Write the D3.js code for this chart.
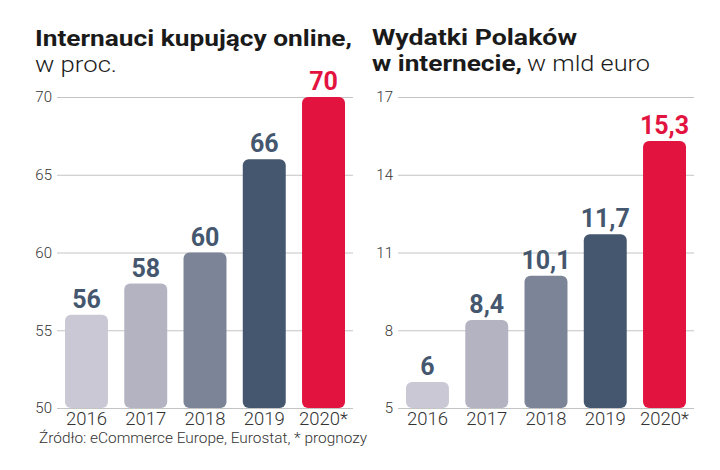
<!DOCTYPE html>
<html lang="pl">
<head>
<meta charset="UTF-8">
<title>Zakupy online</title>
<script src="https://cdn.jsdelivr.net/npm/d3@7/dist/d3.min.js"></script>
<style>
  body { margin: 0; background: #fff; }
  svg { display: block; font-family: Roboto, "Noto Sans", sans-serif; }
</style>
</head>
<body>
<svg id="chart" width="720" height="470"></svg>
<script>
// dane
const years = ['2016', '2017', '2018', '2019', '2020*'];
const buyersPct = [56, 58, 60, 66, 70];
const spendBnEur = [6, 8.4, 10.1, 11.7, 15.3];
const buyersTicks = [50, 55, 60, 65, 70];
const spendTicks = [5, 8, 11, 14, 17];

const barColors = ['#c9c8d4', '#b4b3c2', '#7b8597', '#44576e', '#e2143f'];
const labelColors = ['#44576e', '#44576e', '#44576e', '#44576e', '#e2143f'];

const pl = d3.formatLocale({ decimal: ',', thousands: ' ', grouping: [3], currency: ['', ''] });
const fmt = pl.format('.1~f');

const svg = d3.select('#chart');

// wspólna skala pionowa w pikselach
const plotTop = 97, plotBottom = 408;

function drawPanel(left, values, ticks) {
  const right = left + 296;
  const g = svg.append('g');

  const x = d3.scaleBand().domain(years).range([left, right])
    .paddingInner(0.275).paddingOuter(0.135);
  const y = d3.scaleLinear().domain([ticks[0], ticks[ticks.length - 1]]).range([plotBottom, plotTop]);

  // siatka + etykiety osi Y
  const yAxis = g.append('g')
    .attr('transform', `translate(${left},0)`)
    .call(d3.axisLeft(y).tickValues(ticks).tickSize(-(right - left)).tickPadding(5));
  yAxis.select('.domain').remove();
  yAxis.selectAll('.tick line').attr('stroke', '#c4c4c4').attr('stroke-width', 1);
  yAxis.selectAll('.tick text')
    .attr('fill', '#333').style('font-size', '15px').style('font-weight', 300)
    .style('font-family', 'Roboto, sans-serif');

  // słupki
  g.selectAll('rect.bar').data(values).join('rect')
    .attr('class', 'bar')
    .attr('x', (d, i) => x(years[i]))
    .attr('width', x.bandwidth())
    .attr('y', d => y(d))
    .attr('height', d => y(ticks[0]) - y(d))
    .attr('rx', 6)
    .attr('fill', (d, i) => barColors[i]);

  // wartości nad słupkami
  g.selectAll('text.val').data(values).join('text')
    .attr('class', 'val')
    .attr('x', (d, i) => x(years[i]) + x.bandwidth() / 2)
    .attr('y', d => y(d) - 7)
    .attr('text-anchor', 'middle')
    .attr('fill', (d, i) => labelColors[i])
    .style('font-size', '25px').style('font-weight', 700)
    .text(d => fmt(d));

  // lata
  const xAxis = g.append('g')
    .attr('transform', `translate(0,${plotBottom})`)
    .call(d3.axisBottom(x).tickSize(0).tickPadding(4));
  xAxis.select('.domain').remove();
  xAxis.selectAll('.tick text')
    .attr('fill', '#333').style('font-size', '18.5px').style('font-weight', 300)
    .style('font-family', 'Roboto, sans-serif');
}

drawPanel(57, buyersPct, buyersTicks);
drawPanel(398, spendBnEur, spendTicks);

// tytuły
function title(txt, x, y, w, weight) {
  svg.append('text')
    .attr('x', x).attr('y', y)
    .attr('fill', '#1a1a1a')
    .attr('textLength', w).attr('lengthAdjust', 'spacingAndGlyphs')
    .style('font-size', '22px').style('font-weight', weight)
    .text(txt);
}
title('Internauci kupujący online,', 35, 46, 317, 700);
title('w proc.', 35, 72, 82, 300);
title('Wydatki Polaków', 372, 45, 205, 700);
title('w internecie,', 372, 71, 150, 700);
title('w mld euro', 527, 71, 123, 300);

// źródło
svg.append('text')
  .attr('x', 39).attr('y', 443)
  .attr('fill', '#333')
  .attr('textLength', 328).attr('lengthAdjust', 'spacingAndGlyphs')
  .style('font-size', '15px').style('font-weight', 300)
  .text('Źródło: eCommerce Europe, Eurostat, * prognozy');
</script>
</body>
</html>
